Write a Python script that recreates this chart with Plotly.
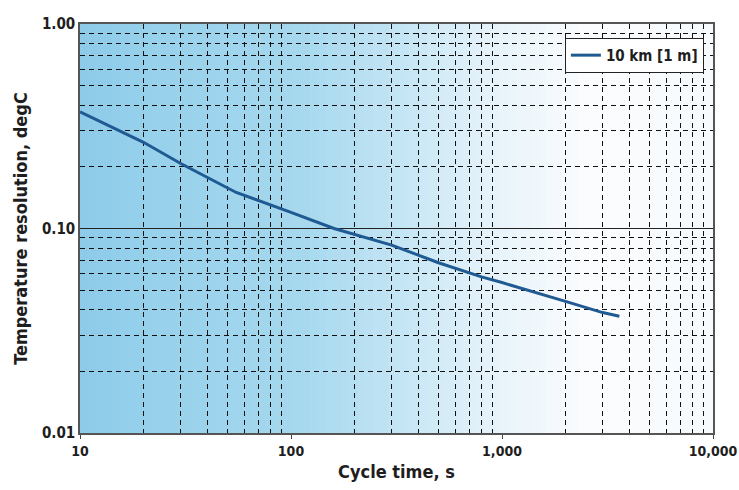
import plotly.graph_objects as go

# ---- data ----
cycle_time = [10, 20, 30, 55, 100, 160, 300, 500, 800, 1000, 2000, 3000, 3600]
temp_res = [0.372, 0.264, 0.208, 0.150, 0.120, 0.100, 0.083, 0.068, 0.058, 0.0544, 0.0440, 0.0388, 0.0372]
series_name = "10 km [1 m]"

x_tickvals = [10, 100, 1000, 10000]
x_ticktext = ["10", "100", "1,000", "10,000"]
y_tickvals = [0.01, 0.1, 1.0]
y_ticktext = ["0.01", "0.10", "1.00"]
x_minor = [m * d for d in (10, 100, 1000) for m in range(2, 10)]
y_minor = [m * d for d in (0.01, 0.1) for m in range(2, 10)]

FONT = "DejaVu Sans Condensed, Liberation Sans Narrow, Arial Narrow, sans-serif"
TXT = "#1e1e1e"

fig = go.Figure()
fig.add_trace(go.Scatter(
    x=cycle_time, y=temp_res, mode="lines", name=series_name,
    line=dict(color="#1f5a93", width=3),
))

# background gradient (light blue -> white), drawn as thin paper-referenced strips
stops = [(0.0, (140, 203, 233)), (0.1, (150, 208, 235)), (0.35, (166, 216, 238)),
         (0.5, (195, 228, 244)), (0.65, (230, 243, 250)), (0.8, (251, 252, 254)),
         (1.0, (246, 250, 252))]

def col(t):
    for (a, ca), (b, cb) in zip(stops[:-1], stops[1:]):
        if a <= t <= b:
            f = (t - a) / (b - a) if b > a else 0
            return "rgb(%d,%d,%d)" % tuple(round(ca[i] + (cb[i] - ca[i]) * f) for i in range(3))
    return "rgb(%d,%d,%d)" % stops[-1][1]

N = 80
shapes = []
for i in range(N):
    x0 = i / N
    x1 = (i + 1) / N + 0.002
    shapes.append(dict(type="rect", xref="paper", yref="paper", x0=x0, x1=min(x1, 1), y0=0, y1=1,
                       fillcolor=col((i + 0.5) / N), line=dict(width=0), layer="below"))

fig.update_layout(
    width=739, height=490,
    margin=dict(l=80, r=26, t=24, b=57),
    paper_bgcolor="white", plot_bgcolor="white",
    shapes=shapes,
    font=dict(family=FONT, size=15, color=TXT, weight="bold"),
    showlegend=True,
    legend=dict(x=0.766, y=0.966, xanchor="left", yanchor="top",
                bgcolor="white", bordercolor="#222", borderwidth=1,
                font=dict(family=FONT, size=15, color=TXT, weight="bold"),
                itemwidth=30, tracegroupgap=0),
    xaxis=dict(
        type="log", range=[1, 4], automargin=False,
        tickvals=x_tickvals, ticktext=x_ticktext,
        ticks="outside", ticklen=4, tickcolor="#444",
        ticklabeloverflow="allow",
        showgrid=False, showline=True, linecolor="#555", linewidth=1.5, mirror=True,
        tickfont=dict(family=FONT, size=14, color=TXT, weight="bold"),
        title=dict(text="Cycle time, s", standoff=8,
                   font=dict(family=FONT, size=18, color=TXT, weight="bold")),
        minor=dict(tickvals=x_minor, showgrid=True, gridcolor="#111", gridwidth=1.2,
                   griddash="5px,4px", ticks=""),
    ),
    yaxis=dict(
        type="log", range=[-2, 0], automargin=False,
        tickvals=y_tickvals, ticktext=y_ticktext,
        ticks="", showgrid=True, gridcolor="#222", gridwidth=1.2,
        ticklabeloverflow="allow",
        showline=True, linecolor="#555", linewidth=1.5, mirror=True,
        tickfont=dict(family=FONT, size=15, color=TXT, weight="bold"),
        title=dict(text="Temperature resolution, degC", standoff=10,
                   font=dict(family=FONT, size=18, color=TXT, weight="bold")),
        minor=dict(tickvals=y_minor, showgrid=True, gridcolor="#111", gridwidth=1.2,
                   griddash="5px,4px", ticks=""),
    ),
)

fig.write_html("out.html", config={"displayModeBar": False},
               post_script="document.body.style.margin='0';")
